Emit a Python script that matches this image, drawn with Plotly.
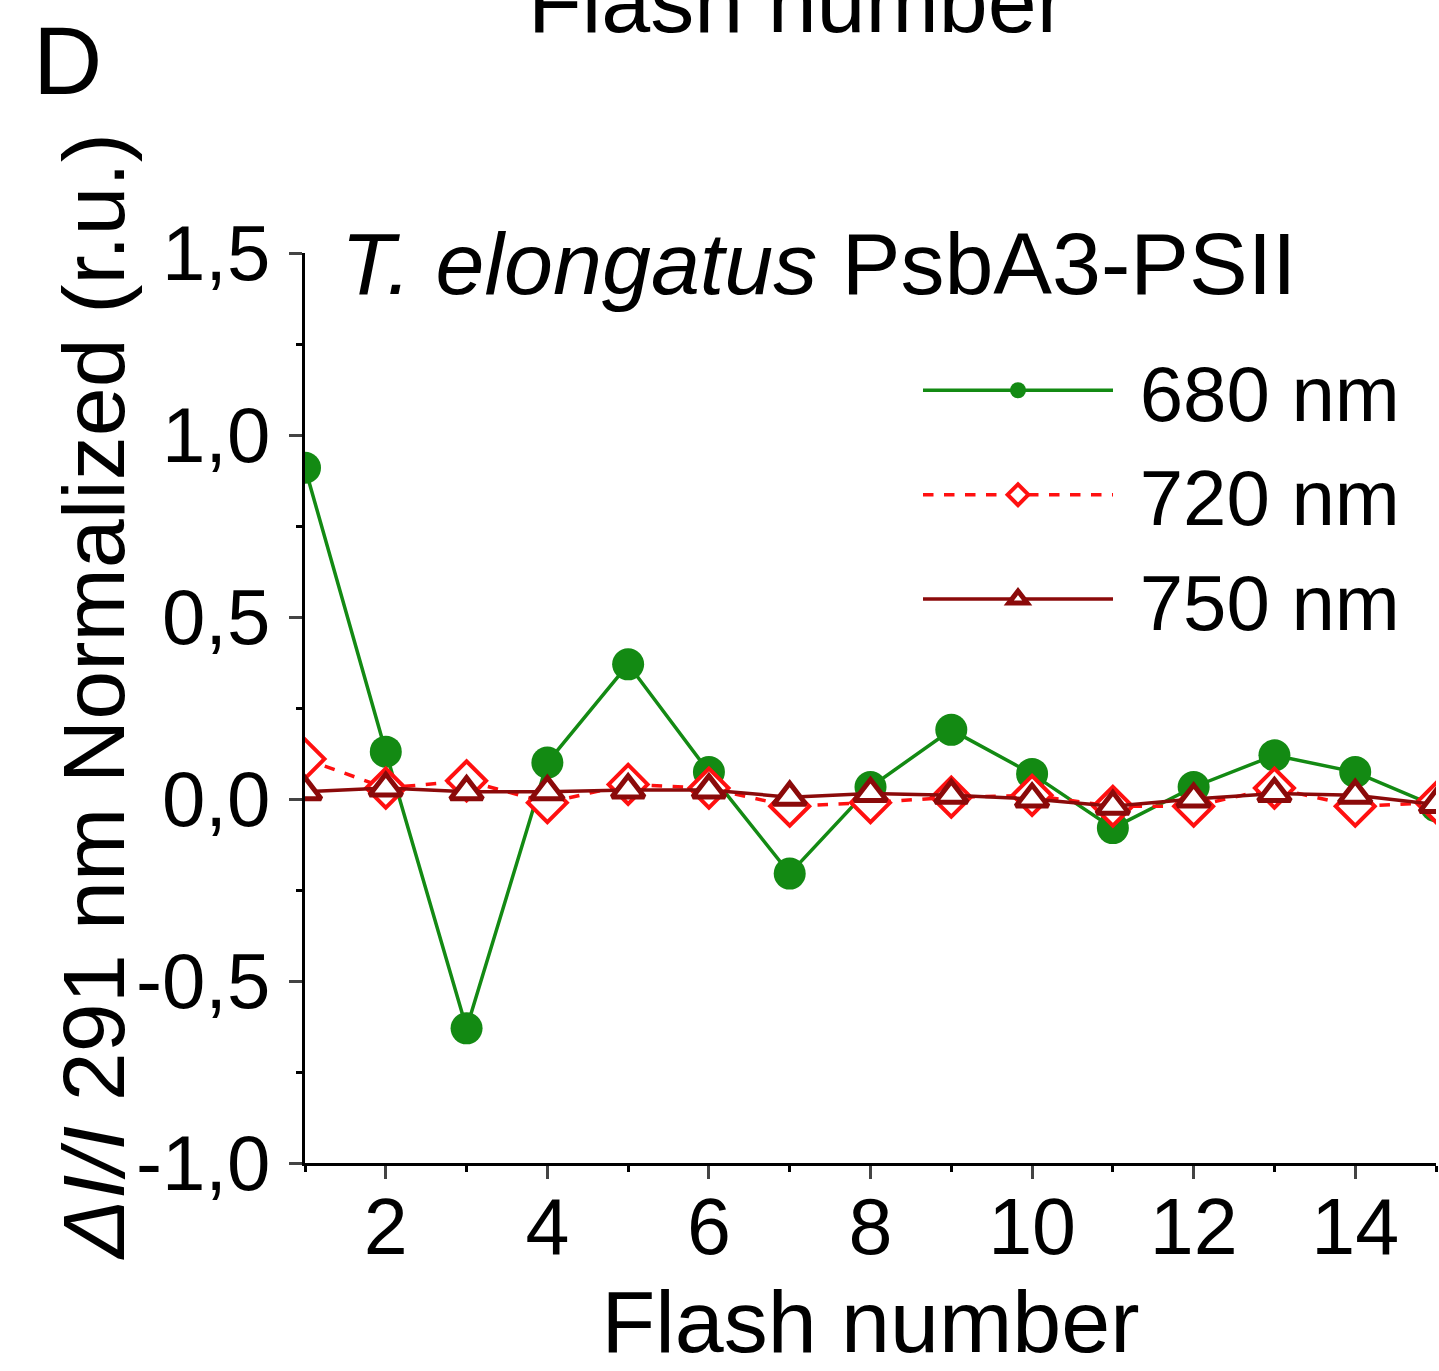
import plotly.graph_objects as go

flash = list(range(1, 16))
nm680 = [0.91, 0.13, -0.63, 0.10, 0.37, 0.074, -0.205, 0.033, 0.19, 0.069, -0.08, 0.033, 0.12, 0.074, -0.02]
nm720 = [0.11, 0.03, 0.05, -0.01, 0.04, 0.03, -0.02, -0.01, 0.005, 0.01, -0.02, -0.02, 0.03, -0.02, -0.01]
nm750 = [0.02, 0.03, 0.02, 0.02, 0.025, 0.025, 0.005, 0.015, 0.01, 0.0, -0.02, 0.0, 0.015, 0.01, -0.015]

series_names = ["680 nm", "720 nm", "750 nm"]
x_ticks = [2, 4, 6, 8, 10, 12, 14]
y_ticks = [-1.0, -0.5, 0.0, 0.5, 1.0, 1.5]
y_tick_labels = ["-1,0", "-0,5", "0,0", "0,5", "1,0", "1,5"]

FONT = "Arial, Liberation Sans, sans-serif"
GREEN = "#138a13"
RED = "#ff1010"
DARKRED = "#8b0a0a"
NB = "\u00a0"

fig = go.Figure()
fig.add_trace(go.Scatter(
    x=flash, y=nm680, name=NB + series_names[0], mode="lines+markers",
    line=dict(color=GREEN, width=3.5),
    marker=dict(symbol="circle", size=32, color=GREEN, line=dict(width=0)),
))
fig.add_trace(go.Scatter(
    x=flash, y=nm720, name=NB + series_names[1], mode="lines+markers",
    line=dict(color=RED, width=3.5, dash="dash"),
    marker=dict(symbol="diamond", size=30, color="white", line=dict(color=RED, width=4)),
))
fig.add_trace(go.Scatter(
    x=flash, y=nm750, name=NB + series_names[2], mode="lines+markers",
    line=dict(color=DARKRED, width=3.5),
    marker=dict(symbol="triangle-up", size=28, color="white", line=dict(color=DARKRED, width=5)),
))

fig.update_layout(
    width=1439, height=1371,
    margin=dict(l=305, r=3, t=253, b=208),
    paper_bgcolor="white", plot_bgcolor="white",
    separators=",.",
    font=dict(family=FONT, size=79, color="black"),
    showlegend=True,
    legend=dict(
        x=0.542, xanchor="left", y=0.912, yanchor="top",
        bgcolor="rgba(0,0,0,0)", itemwidth=190,
        font=dict(family=FONT, size=78, color="black"),
        tracegroupgap=0,
    ),
)

fig.update_xaxes(
    range=[1, 15], tickvals=x_ticks, ticks="outside", ticklen=13, tickwidth=3,
    minor=dict(dtick=1, tick0=1, ticks="outside", ticklen=6, tickwidth=3, tickcolor="black"),
    showline=True, linecolor="black", linewidth=3, showgrid=False, zeroline=False,
    tickfont=dict(family=FONT, size=79), ticklabelstandoff=-20,
    title=dict(text="Flash number", font=dict(family=FONT, size=88), standoff=30),
)
fig.update_yaxes(
    range=[-1.0, 1.5], tickvals=y_ticks, ticktext=y_tick_labels, ticks="outside", ticklen=13, tickwidth=3,
    minor=dict(dtick=0.25, tick0=0, ticks="outside", ticklen=6, tickwidth=3, tickcolor="black"),
    showline=True, linecolor="black", linewidth=3, showgrid=False, zeroline=False,
    tickfont=dict(family=FONT, size=78), ticklabelstandoff=3,
)

fig.add_annotation(
    text="<i>ΔI/I</i> 291 nm Normalized (r.u.)", textangle=-90,
    xref="paper", yref="paper", x=0, y=0.512, xanchor="center", yanchor="middle",
    xshift=-212, showarrow=False, font=dict(family=FONT, size=88),
)
fig.add_annotation(
    text="<i>T. elongatus</i> PsbA3-PSII",
    xref="paper", yref="paper", x=0.03, y=0.989, xanchor="left", yanchor="middle",
    showarrow=False, font=dict(family=FONT, size=88),
)
fig.add_annotation(
    text="D", xref="paper", yref="paper", x=-0.21, y=1.212,
    xanchor="center", yanchor="middle", showarrow=False, font=dict(family=FONT, size=96),
)
fig.add_annotation(
    text="Flash number", xref="paper", yref="paper", x=0.435, y=1.276,
    xanchor="center", yanchor="middle", showarrow=False, font=dict(family=FONT, size=88),
)

fig.write_html("out.html")
